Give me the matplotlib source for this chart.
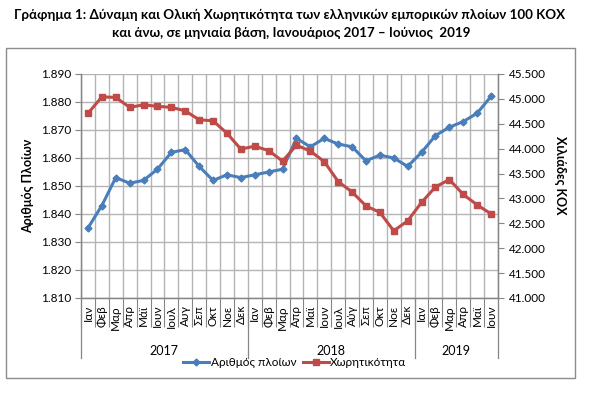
import numpy as np
import matplotlib
matplotlib.use('Agg')
import matplotlib.pyplot as plt
from matplotlib.ticker import FixedLocator, FuncFormatter
from matplotlib.lines import Line2D
from matplotlib.patches import Rectangle
import matplotlib.transforms as mtransforms

plt.rcParams['font.family'] = ['Lato', 'Noto Sans', 'DejaVu Sans']

# Δεδομένα (διαβασμένα από το διάγραμμα)
months = ['Ιαν', 'Φεβ', 'Μαρ', 'Απρ', 'Μάϊ', 'Ιουν', 'Ιουλ', 'Αυγ', 'Σεπ', 'Οκτ', 'Νοε', 'Δεκ',
          'Ιαν', 'Φεβ', 'Μαρ', 'Απρ', 'Μαϊ', 'Ιουν', 'Ιουλ', 'Αύγ', 'Σεπ', 'Οκτ', 'Νοε', 'Δεκ',
          'Ιαν', 'Φεβ', 'Μαρ', 'Απρ', 'Μαϊ', 'Ιουν']
years = ['2017', '2018', '2019']
year_lengths = [12, 12, 6]

ships = [1835, 1843, 1853, 1851, 1852, 1856, 1862, 1863, 1857, 1852, 1854, 1853,
         1854, 1855, 1856, 1867, 1864, 1867, 1865, 1864, 1859, 1861, 1860, 1857,
         1862, 1868, 1871, 1873, 1876, 1882]

tonnage = [44710, 45040, 45030, 44830, 44880, 44850, 44830, 44760, 44580, 44560, 44310, 43990,
           44050, 43960, 43750, 44070, 43950, 43740, 43340, 43130, 42850, 42720, 42350, 42550,
           42920, 43230, 43380, 43080, 42870, 42690]

BLUE = '#4a7ebb'
RED = '#be4b48'
GRID = '#b4b4b4'
AXIS = '#868686'

W, H = 595, 395
fig = plt.figure(figsize=(W / 100, H / 100), dpi=100)

def px(x0, y0, x1, y1):
    return [x0 / W, 1 - y1 / H, (x1 - x0) / W, (y1 - y0) / H]

# πλαίσιο διαγράμματος
fig.patches.append(Rectangle((6 / W, 1 - 378 / H), 569 / W, 330 / H, transform=fig.transFigure,
                             fill=False, edgecolor='#8c8c8c', linewidth=1.0))

ax1 = fig.add_axes(px(81, 74, 498, 298))
ax2 = ax1.twinx()

x = np.arange(len(months))
ax1.plot(x, ships, color=BLUE, linewidth=2.2, marker='D', markersize=3.5, label='Αριθμός πλοίων', zorder=3)
ax2.plot(x, tonnage, color=RED, linewidth=2.2, marker='s', markersize=5, label='Χωρητικότητα', zorder=3)

ax1.set_xlim(-0.5, len(months) - 0.5)
ax1.set_ylim(1810, 1890)
ax2.set_ylim(41000, 45500)

ax1.yaxis.set_major_locator(FixedLocator(np.arange(1810, 1891, 10)))
ax2.yaxis.set_major_locator(FixedLocator(np.arange(41000, 45501, 500)))
fmt = FuncFormatter(lambda v, p: f'{int(v):,}'.replace(',', '.'))
ax1.yaxis.set_major_formatter(fmt)
ax2.yaxis.set_major_formatter(fmt)

ax1.set_xticks(x)
ax1.set_xticklabels(months, rotation=90, fontsize=8.5, va='top')
ax1.set_xticks(np.arange(-0.5, len(months), 1), minor=True)
ax1.tick_params(axis='x', which='major', length=0, pad=5)
ax1.tick_params(axis='x', which='minor', length=21, width=0.8, color=AXIS, direction='out')
ax1.tick_params(axis='y', length=4, width=0.8, color=AXIS, labelsize=8.5, pad=3)
ax2.tick_params(axis='y', length=4, width=0.8, color=AXIS, labelsize=8.5, pad=4)

ax1.grid(True, axis='y', color=GRID, linewidth=1.0)
ax1.grid(True, axis='x', which='minor', color=GRID, linewidth=1.0)
ax1.set_axisbelow(True)

for a in (ax1, ax2):
    for side in ('left', 'right', 'bottom'):
        a.spines[side].set_color(AXIS)
        a.spines[side].set_linewidth(0.9)
    a.spines['top'].set_visible(False)

# διαχωριστικά ετών και ετικέτες
trans = mtransforms.blended_transform_factory(ax1.transData, ax1.transAxes)
start = -0.5
bounds = [start]
for yr, n in zip(years, year_lengths):
    ax1.text(start + n / 2, -0.237, yr, transform=trans, ha='center', va='center', fontsize=9)
    start += n
    bounds.append(start)
for b in bounds:
    ax1.add_line(Line2D([b, b], [0, -0.268], transform=trans, color=AXIS, linewidth=0.9, clip_on=False))

ax1.set_ylabel('Αριθμός Πλοίων', fontsize=9, fontweight='bold', labelpad=5)
fig.text(560 / W, 1 - 175 / H, 'Χιλιάδες ΚΟΧ', rotation=270, ha='center', va='center',
         fontsize=9, fontweight='bold')

fig.text(290 / W, 1 - 15 / H, 'Γράφημα 1: Δύναμη και Ολική Χωρητικότητα των ελληνικών εμπορικών πλοίων 100 ΚΟΧ',
         ha='center', va='center', fontsize=9.6, fontweight='bold')
fig.text(291 / W, 1 - 33 / H, 'και άνω, σε μηνιαία βάση, Ιανουάριος 2017 – Ιούνιος  2019',
         ha='center', va='center', fontsize=9.6, fontweight='bold')

h1, l1 = ax1.get_legend_handles_labels()
h2, l2 = ax2.get_legend_handles_labels()
fig.legend(h1 + h2, l1 + l2, loc='center', bbox_to_anchor=(295 / W, 1 - 363 / H), ncol=2,
           frameon=False, fontsize=8.5, handlelength=2.2, handletextpad=0.1, columnspacing=0.6)

fig.savefig('out.png', dpi=100)
